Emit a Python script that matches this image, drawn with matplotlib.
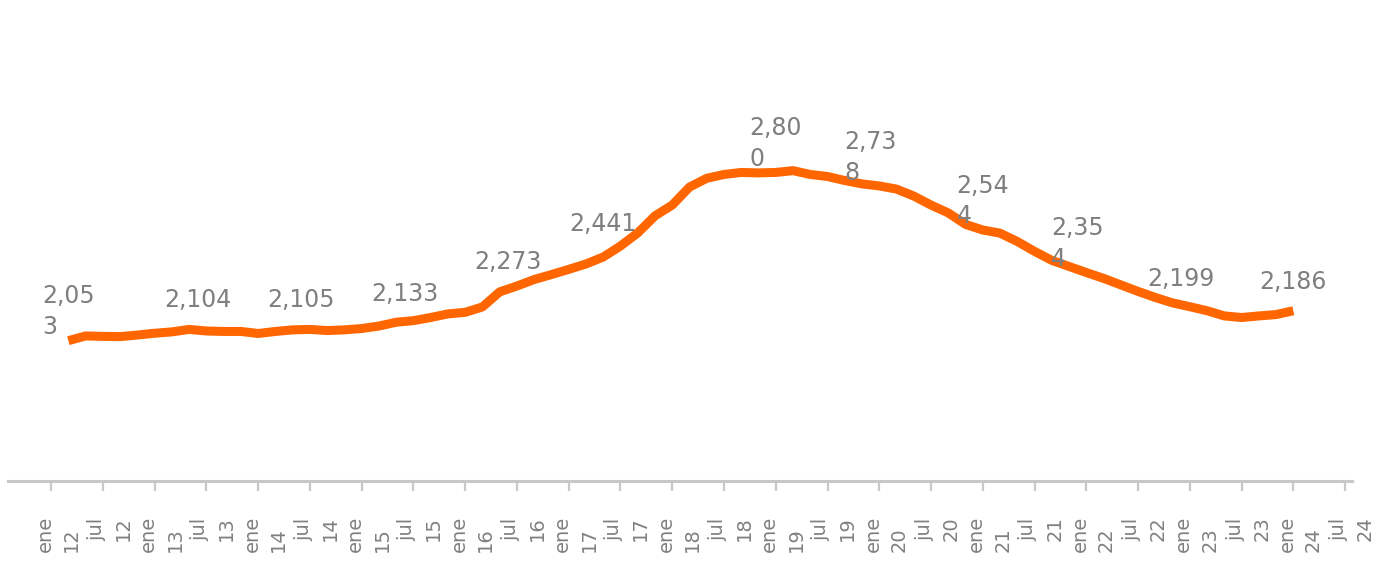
import pandas as pd
import matplotlib.pyplot as plt
import matplotlib.transforms as mtransforms

# serie bimestral, mar 2012 - ene 2024
fechas = pd.date_range("2012-03-01", "2024-01-01", freq="2MS")
valores = [2053, 2074, 2072, 2071, 2078, 2086, 2092, 2103, 2096, 2094,
           2094, 2085, 2094, 2101, 2103, 2098, 2101, 2107, 2118, 2135,
           2142, 2156, 2172, 2179, 2203, 2270, 2296, 2325, 2347, 2370,
           2394, 2425, 2474, 2532, 2608, 2656, 2736, 2775, 2792, 2801,
           2799, 2801, 2809, 2792, 2783, 2765, 2750, 2741, 2727, 2696,
           2656, 2621, 2570, 2545, 2531, 2494, 2450, 2410, 2383, 2356,
           2330, 2301, 2272, 2245, 2221, 2204, 2186, 2163, 2156, 2163,
           2169, 2186]

# etiquetas de datos
etiq_fechas = ["2012-03", "2013-06", "2014-06", "2015-06", "2016-06", "2017-05",
               "2019-01", "2019-12", "2021-01", "2021-12", "2022-12", "2024-01"]
etiq_valores = [2053, 2104, 2105, 2133, 2273, 2441, 2800, 2738, 2544, 2354, 2199, 2186]
etiq_textos = ["2,05\n3", "2,104", "2,105", "2,133", "2,273", "2,441",
               "2,80\n0", "2,73\n8", "2,54\n4", "2,35\n4", "2,199", "2,186"]

anios = list(range(12, 25))
tick_textos = []
for a in anios:
    tick_textos += ["ene\n%d" % a, "jul\n%d" % a]


def mes_idx(f):
    f = pd.Timestamp(f)
    return (f.year - 2012) * 12 + f.month - 1


x = [mes_idx(f) for f in fechas]

fig = plt.figure(figsize=(13.73, 5.70), dpi=100)
ax = fig.add_axes([8 / 1373, 89 / 570, 1344 / 1373, 421 / 570])

ax.plot(x, valores, color="#ff6600", lw=6.5, solid_capstyle="butt", solid_joinstyle="round")

for f, v, t in zip(etiq_fechas, etiq_valores, etiq_textos):
    ax.annotate(t, (mes_idx(f), v), xytext=(0, 21), textcoords="offset points",
                ha="center", va="center", ma="left", fontsize=17,
                color="#7f7f7f", linespacing=1.35)

ax.set_xlim(-5.0, 150.8)
ax.set_ylim(1429, 3301)

ax.set_xticks(list(range(0, 12 * len(anios), 6)))
ax.set_xticklabels(tick_textos, rotation=90, fontsize=14, color="#808080",
                   linespacing=1.5, ha="center", va="top", ma="left")
ax.tick_params(axis="x", length=7.2, width=1.6, color="#c8c8c8", pad=18)
ax.set_yticks([])

offset = mtransforms.ScaledTranslation(7 / 100, 0, fig.dpi_scale_trans)
for lab in ax.get_xticklabels():
    lab.set_transform(lab.get_transform() + offset)

for s in ["top", "left", "right"]:
    ax.spines[s].set_visible(False)
ax.spines["bottom"].set_color("#c8c8c8")
ax.spines["bottom"].set_linewidth(2.2)

fig.savefig("out.png", dpi=100)
